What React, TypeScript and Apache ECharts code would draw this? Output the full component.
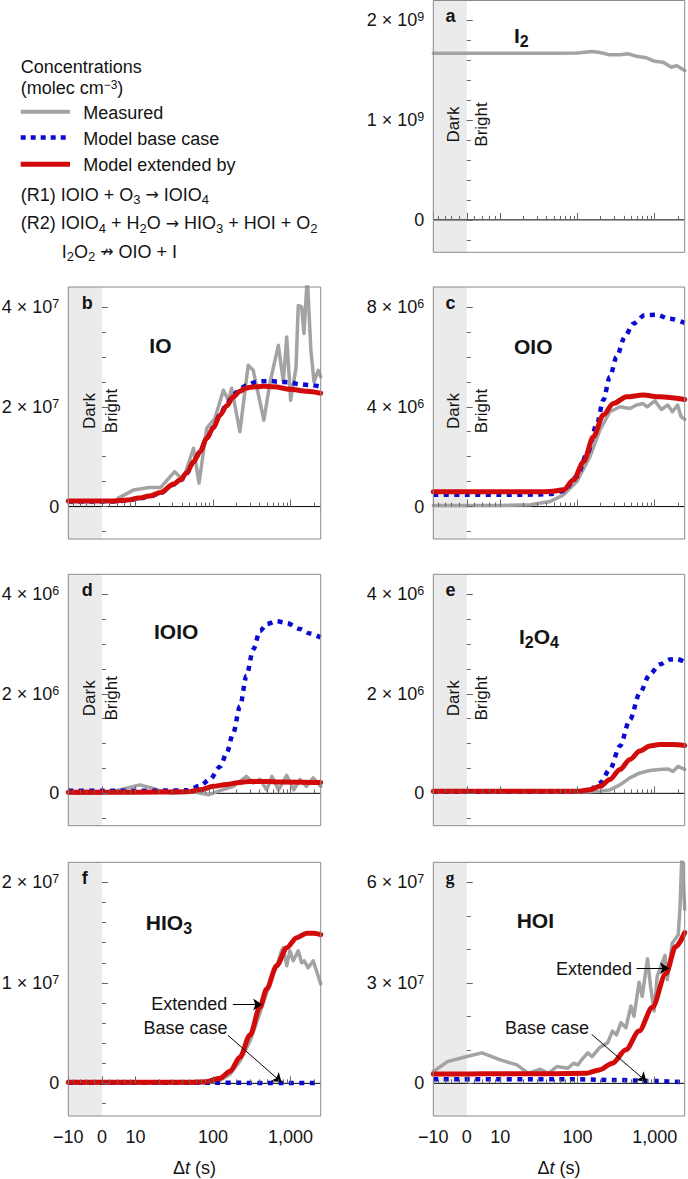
import React, { useEffect, useRef } from 'react';
import * as echarts from 'echarts';

const FONT = '"Liberation Sans", Arial, Helvetica, sans-serif';
const SERIF = '"Liberation Serif", "Times New Roman", serif';
const SYMFONT = '"DejaVu Sans", sans-serif';
const GRAY = '#a3a3a3';
const BLUE = '#0b0bd0';
const RED = '#d20a0a';
const TXT = '#141414';
const FRAME = '#8a8a8a';
const TICK = '#666666';
const SHADE = '#ebebeb';

// ---- x axis: time (s), asinh near zero, log10 above 10 s ----
const X_MIN = -10;
const X_MAX = 2450;
function fx(t: number): number {
  if (t <= 10) return (33.6 * Math.asinh(t / 8.5)) / Math.asinh(10 / 8.5);
  return 33.6 + 77.5 * Math.log10(t / 10);
}
const X_MAJOR = [-10, 0, 10, 100, 1000];
const X_MAJOR_LABELS = ['\u221210', '0', '10', '100', '1,000'];
const X_MINOR = [-8, -6, -4, -2, 2, 4, 6, 8, 20, 30, 40, 50, 60, 70, 80, 90, 200, 300, 400, 500, 600, 700, 800, 900, 2000];

// ---- y ticks (in units of 10^exp) ----
const A_Y_MAJOR = [0, 1, 2];
const A_Y_MINOR = [-0.2, 0.2, 0.4, 0.6, 0.8, 1.2, 1.4, 1.6, 1.8];
const B_Y_MAJOR = [0, 2, 4];
const B_Y_MINOR = [-0.5, 0.5, 1, 1.5, 2.5, 3, 3.5];
const C_Y_MAJOR = [0, 4, 8];
const C_Y_MINOR = [-1, 1, 2, 3, 5, 6, 7];
const D_Y_MAJOR = [0, 2, 4];
const D_Y_MINOR = [-0.5, 0.5, 1, 1.5, 2.5, 3, 3.5];
const E_Y_MAJOR = [0, 2, 4];
const E_Y_MINOR = [-0.5, 0.5, 1, 1.5, 2.5, 3, 3.5];
const F_Y_MAJOR = [0, 1, 2];
const F_Y_MINOR = [-0.2, 0.2, 0.4, 0.6, 0.8, 1.2, 1.4, 1.6, 1.8];
const G_Y_MAJOR = [0, 3, 6];
const G_Y_MINOR = [1, 2, 4, 5];

// ---- data: a  I2 (x1e9) ----
const A_MEAS_T = [-10, 0, 10, 50, 100, 153, 196, 263, 355, 455, 582, 784, 1000, 1290, 1650, 1910, 2450];
const A_MEAS_V = [1.67, 1.67, 1.67, 1.671, 1.673, 1.688, 1.678, 1.655, 1.655, 1.665, 1.641, 1.625, 1.59, 1.581, 1.531, 1.547, 1.497];

// ---- b  IO (x1e7) ----
const B_MEAS_T = [4.3, 9.2, 15, 21, 32, 41, 56, 66, 83, 106, 136, 158, 174, 222, 284, 330, 453, 545, 697, 808, 893, 1003, 1175, 1258, 1390, 1490, 1645, 1830, 2010, 2280, 2450];
const B_MEAS_V = [0.17, 0.33, 0.38, 0.38, 0.7, 0.53, 1.17, 0.47, 1.57, 1.77, 2.33, 2.13, 2.37, 1.5, 2.83, 2.73, 1.73, 2.5, 3.23, 2.5, 3.4, 2.13, 2.77, 4.03, 4.0, 3.47, 4.6, 3.13, 2.5, 2.73, 2.6];
const B_BASE_T = [-10, 0, 3, 7, 11, 15, 21, 31, 38, 46, 56, 68, 83, 101, 123, 150, 182, 223, 270, 365, 520, 700, 983, 1300, 1900, 2450];
const B_BASE_V = [0.1, 0.1, 0.1, 0.12, 0.16, 0.2, 0.27, 0.44, 0.53, 0.67, 0.89, 1.09, 1.37, 1.59, 1.85, 2.05, 2.24, 2.36, 2.43, 2.5, 2.52, 2.5, 2.49, 2.45, 2.43, 2.4];
const B_EXT_T = [-10, 0, 3, 7, 11, 15, 21, 31, 38, 46, 56, 68, 83, 101, 123, 150, 182, 223, 260, 300, 365, 450, 615, 983, 1620, 2450];
const B_EXT_V = [0.11, 0.11, 0.11, 0.13, 0.17, 0.21, 0.28, 0.45, 0.54, 0.68, 0.9, 1.1, 1.37, 1.58, 1.83, 2.02, 2.2, 2.31, 2.37, 2.39, 2.4, 2.41, 2.4, 2.35, 2.31, 2.27];

// ---- c  OIO (x1e6) ----
const C_MEAS_T = [-10, 0, 10, 24.5, 44, 66, 98, 145, 196, 263, 355, 478, 582, 707, 800, 1003, 1220, 1480, 1700, 1980, 2200, 2450];
const C_MEAS_V = [0.04, 0.04, 0.04, 0.07, 0.2, 0.47, 1.0, 2.0, 3.07, 3.8, 4.0, 3.93, 4.07, 4.13, 4.0, 4.24, 3.89, 4.07, 3.8, 4.07, 3.6, 3.5];
const C_BASE_T = [-10, 0, 10, 30, 44, 66, 98, 134, 180, 216, 263, 321, 410, 528, 743, 1055, 1565, 2450];
const C_BASE_V = [0.47, 0.47, 0.47, 0.48, 0.5, 0.62, 1.2, 2.13, 3.33, 4.27, 5.2, 6.0, 6.8, 7.33, 7.67, 7.69, 7.53, 7.36];
const C_EXT_T = [-10, 0, 10, 30, 44, 66, 89, 120, 161, 216, 291, 433, 707, 1160, 2450];
const C_EXT_V = [0.59, 0.59, 0.59, 0.59, 0.6, 0.67, 1.07, 1.8, 2.8, 3.67, 4.13, 4.4, 4.47, 4.4, 4.29];

// ---- d  IOIO (x1e6) ----
const D_MEAS_T = [-10, 0, 2.9, 11.4, 17, 22, 30, 55, 88, 120, 182, 270, 330, 403, 492, 575, 700, 893, 1100, 1325, 1600, 1960, 2450];
const D_MEAS_V = [0, 0, 0.04, 0.17, 0.1, 0.04, 0, 0.03, -0.03, 0.05, 0.14, 0.34, 0.21, 0.28, 0.07, 0.34, 0.07, 0.36, 0.07, 0.28, 0.14, 0.31, 0.14];
const D_BASE_T = [-10, 0, 10, 46, 68, 91, 124, 150, 182, 223, 270, 330, 403, 492, 662, 893, 1325, 1785, 2450];
const D_BASE_V = [0.05, 0.05, 0.05, 0.06, 0.15, 0.28, 0.54, 0.81, 1.21, 1.75, 2.36, 2.89, 3.26, 3.4, 3.46, 3.42, 3.3, 3.21, 3.13];
const D_EXT_T = [-10, 0, 10, 46, 68, 101, 150, 223, 300, 480, 750, 2450];
const D_EXT_V = [0.02, 0.02, 0.02, 0.03, 0.07, 0.14, 0.18, 0.22, 0.24, 0.24, 0.23, 0.22];

// ---- e  I2O4 (x1e6) ----
const E_MEAS_T = [-10, 0, 10, 50, 98, 196, 263, 355, 478, 643, 866, 1160, 1480, 1730, 2000, 2450];
const E_MEAS_V = [0.02, 0.02, 0.02, 0.02, 0.02, 0.04, 0.07, 0.17, 0.31, 0.41, 0.46, 0.48, 0.49, 0.44, 0.54, 0.48];
const E_BASE_T = [-10, 0, 10, 50, 98, 145, 196, 263, 355, 478, 643, 866, 1160, 1565, 1911, 2450];
const E_BASE_V = [0.03, 0.03, 0.03, 0.03, 0.03, 0.07, 0.21, 0.48, 0.95, 1.48, 2.02, 2.39, 2.59, 2.69, 2.7, 2.64];
const E_EXT_T = [-10, 0, 10, 50, 98, 145, 196, 263, 355, 478, 643, 866, 1160, 1730, 2450];
const E_EXT_V = [0.04, 0.04, 0.04, 0.04, 0.04, 0.07, 0.14, 0.28, 0.48, 0.68, 0.85, 0.95, 0.98, 0.98, 0.96];

// ---- f  HIO3 (x1e7) ----
const F_MEAS_T = [-10, 0, 10, 46, 82, 123, 166, 222, 300, 403, 492, 560, 662, 764, 808, 893, 983, 1085, 1258, 1390, 1500, 1690, 1960, 2450];
const F_MEAS_V = [0, 0, 0, 0, 0.005, 0.03, 0.09, 0.22, 0.42, 0.7, 0.9, 1.05, 1.16, 1.32, 1.35, 1.17, 1.32, 1.22, 1.32, 1.2, 1.22, 1.15, 1.22, 0.99];
const F_BASE_T = [-10, 100, 1000, 2450];
const F_BASE_V = [0.005, 0.005, 0.004, 0.004];
const F_EXT_T = [-10, 0, 10, 46, 82, 123, 166, 222, 300, 403, 492, 662, 893, 1200, 1614, 2000, 2450];
const F_EXT_V = [0.01, 0.01, 0.01, 0.01, 0.017, 0.05, 0.12, 0.26, 0.48, 0.76, 0.94, 1.17, 1.35, 1.45, 1.495, 1.495, 1.48];

// ---- g  HOI (x1e7) ----
const G_MEAS_T = [-10, -5.2, 0, 4, 10, 16.5, 23, 33, 42, 54, 75, 89, 101, 113, 136, 155, 192, 246, 284, 320, 366, 424, 493, 540, 628, 690, 808, 885, 983, 1080, 1364, 1460, 1690, 2020, 2130, 2250, 2450];
const G_MEAS_V = [0.35, 0.65, 0.8, 0.91, 0.7, 0.55, 0.3, 0.42, 0.3, 0.5, 0.45, 0.6, 0.55, 0.7, 0.91, 0.8, 1.06, 1.21, 1.56, 1.45, 1.81, 1.66, 2.31, 2.0, 3.02, 2.6, 3.72, 2.9, 2.16, 3.2, 3.82, 3.1, 4.18, 4.43, 5.24, 6.8, 5.2];
const G_BASE_T = [-10, 100, 300, 1000, 2450];
const G_BASE_V = [0.12, 0.12, 0.1, 0.07, 0.03];
const G_EXT_T = [-10, 0, 10, 50, 129, 192, 284, 424, 628, 935, 1392, 1873, 2450];
const G_EXT_V = [0.28, 0.28, 0.29, 0.29, 0.3, 0.4, 0.6, 1.0, 1.56, 2.27, 3.27, 4.08, 4.5];

// ---- annotations (data coordinates: [t, value]) ----
const F_EXT_TEXT = [180, 0.785];
const F_EXT_ARROW = [[180, 0.785], [430, 0.785]];
const F_BASE_TEXT = [166, 0.554];
const F_BASE_ARROW = [[156, 0.478], [766, 0.01]];
const G_EXT_TEXT = [582, 3.4];
const G_EXT_ARROW = [[582, 3.44], [1538, 3.44]];
const G_BASE_TEXT = [152, 1.66];
const G_BASE_ARROW = [[153, 1.46], [784, 0.05]];

// ---- layout ----
const COL_LEFT = [68.3, 433.3];
const COL_WIDTH = [252.4, 251.4];
const ROW_TOP = [0.5, 287, 574.3, 862.3];
const ROW_HEIGHT = [251.8, 252, 251.4, 253.7];

type Pair = [number[], number[]];
type Annot = { text: string; at: number[]; arrow: number[][]; dist: number };
type Panel = {
  letter: string; col: number; row: number; exp: number; unit: number;
  yMajor: number[]; yMinor: number[]; title: string; tdx: number; tdy: number;
  meas: Pair; base?: Pair; ext?: Pair; showX: boolean; darkBright: boolean; annots?: Annot[];
};

const PANELS: Panel[] = [
  { letter: 'a', col: 1, row: 0, exp: 9, unit: 1, yMajor: A_Y_MAJOR, yMinor: A_Y_MINOR, title: 'I{s|2}', tdx: 80.7, tdy: 34.5, meas: [A_MEAS_T, A_MEAS_V], showX: false, darkBright: true },
  { letter: 'b', col: 0, row: 1, exp: 7, unit: 2, yMajor: B_Y_MAJOR, yMinor: B_Y_MINOR, title: 'IO', tdx: 81, tdy: 58.6, meas: [B_MEAS_T, B_MEAS_V], base: [B_BASE_T, B_BASE_V], ext: [B_EXT_T, B_EXT_V], showX: false, darkBright: true },
  { letter: 'c', col: 1, row: 1, exp: 6, unit: 4, yMajor: C_Y_MAJOR, yMinor: C_Y_MINOR, title: 'OIO', tdx: 80.7, tdy: 59, meas: [C_MEAS_T, C_MEAS_V], base: [C_BASE_T, C_BASE_V], ext: [C_EXT_T, C_EXT_V], showX: false, darkBright: true },
  { letter: 'd', col: 0, row: 2, exp: 6, unit: 2, yMajor: D_Y_MAJOR, yMinor: D_Y_MINOR, title: 'IOIO', tdx: 85.7, tdy: 57, meas: [D_MEAS_T, D_MEAS_V], base: [D_BASE_T, D_BASE_V], ext: [D_EXT_T, D_EXT_V], showX: false, darkBright: true },
  { letter: 'e', col: 1, row: 2, exp: 6, unit: 2, yMajor: E_Y_MAJOR, yMinor: E_Y_MINOR, title: 'I{s|2}O{s|4}', tdx: 85.7, tdy: 62.4, meas: [E_MEAS_T, E_MEAS_V], base: [E_BASE_T, E_BASE_V], ext: [E_EXT_T, E_EXT_V], showX: false, darkBright: true },
  { letter: 'f', col: 0, row: 3, exp: 7, unit: 1, yMajor: F_Y_MAJOR, yMinor: F_Y_MINOR, title: 'HIO{s|3}', tdx: 77.5, tdy: 59.7, meas: [F_MEAS_T, F_MEAS_V], base: [F_BASE_T, F_BASE_V], ext: [F_EXT_T, F_EXT_V], showX: true, darkBright: false,
    annots: [ { text: 'Extended', at: F_EXT_TEXT, arrow: F_EXT_ARROW, dist: 5 }, { text: 'Base case', at: F_BASE_TEXT, arrow: F_BASE_ARROW, dist: 2 } ] },
  { letter: 'g', col: 1, row: 3, exp: 7, unit: 3, yMajor: G_Y_MAJOR, yMinor: G_Y_MINOR, title: 'HOI', tdx: 83.4, tdy: 58.2, meas: [G_MEAS_T, G_MEAS_V], base: [G_BASE_T, G_BASE_V], ext: [G_EXT_T, G_EXT_V], showX: true, darkBright: false,
    annots: [ { text: 'Extended', at: G_EXT_TEXT, arrow: G_EXT_ARROW, dist: 4 }, { text: 'Base case', at: G_BASE_TEXT, arrow: G_BASE_ARROW, dist: 2 } ] },
];

function zip(p: Pair): number[][] {
  const n = Math.min(p[0].length, p[1].length);
  const out: number[][] = [];
  for (let i = 0; i < n; i++) out.push([fx(p[0][i]), p[1][i]]);
  return out;
}

function buildOption() {
  const grid: any[] = [];
  const xAxis: any[] = [];
  const yAxis: any[] = [];
  const series: any[] = [];
  const graphic: any[] = [];
  const xmin = fx(X_MIN);
  const xmax = fx(X_MAX);

  PANELS.forEach((p, i) => {
    const left = COL_LEFT[p.col];
    const top = ROW_TOP[p.row];
    grid.push({
      left, top, width: COL_WIDTH[p.col], height: ROW_HEIGHT[p.row],
      show: true, z: 6, borderColor: FRAME, borderWidth: 1, backgroundColor: 'transparent',
      containLabel: false, outerBoundsMode: 'none',
    });
    const xi = i * 2;
    xAxis.push({
      type: 'value', gridIndex: i, min: xmin, max: xmax, position: 'bottom', z: 5,
      axisLine: { show: false }, splitLine: { show: false },
      axisTick: { show: true, inside: true, length: 4, customValues: X_MAJOR.concat(X_MINOR).map(fx), lineStyle: { color: TICK, width: 1 } },
      axisLabel: {
        show: p.showX, customValues: X_MAJOR.map(fx), margin: 12, fontSize: 18, color: TXT, fontFamily: FONT,
        formatter: (v: number) => {
          const k = X_MAJOR.findIndex((t) => Math.abs(fx(t) - v) < 1e-6);
          return k >= 0 ? X_MAJOR_LABELS[k] : '';
        },
      },
      name: p.showX ? '{a|\u0394}{i|t}{a| (s)}' : '', nameLocation: 'middle', nameGap: 42, nameMoveOverlap: false,
      nameTextStyle: { rich: { a: { fontSize: 18, fontFamily: FONT, color: TXT, lineHeight: 20 }, i: { fontSize: 18, fontStyle: 'italic', fontFamily: FONT, color: TXT, lineHeight: 20 } } },
    });
    xAxis.push({
      type: 'value', gridIndex: i, min: xmin, max: xmax, position: 'bottom', z: 5,
      axisLine: { show: false }, splitLine: { show: false },
      axisTick: { show: true, inside: true, length: 7, customValues: X_MAJOR.map(fx), lineStyle: { color: TICK, width: 1 } },
      axisLabel: { show: false },
    });
    const ymin = -0.325 * p.unit;
    const ymax = 2.2 * p.unit;
    yAxis.push({
      type: 'value', gridIndex: i, min: ymin, max: ymax, position: 'left', z: 5,
      axisLine: { show: false }, splitLine: { show: false },
      axisTick: { show: true, inside: true, length: 4, customValues: p.yMajor.concat(p.yMinor), lineStyle: { color: TICK, width: 1 } },
      axisLabel: {
        show: true, customValues: p.yMajor, margin: 9, fontSize: 18, lineHeight: 19, color: TXT, fontFamily: FONT,
        formatter: (v: number) => (Math.abs(v) < 1e-9 ? '0' : `{n|${v} \u00d7 10}{sup|${p.exp}}`),
        rich: {
          n: { fontSize: 18, lineHeight: 19, fontFamily: FONT, color: TXT },
          sup: { fontSize: 12.5, lineHeight: 12.5, verticalAlign: 'top', fontFamily: FONT, color: TXT },
        },
      },
    });
    yAxis.push({
      type: 'value', gridIndex: i, min: ymin, max: ymax, position: 'left', z: 5,
      axisLine: { show: false }, splitLine: { show: false },
      axisTick: { show: true, inside: true, length: 6, customValues: p.yMajor, lineStyle: { color: TICK, width: 1 } },
      axisLabel: { show: false },
    });

    const edge = [[xmin, 0], [xmax, 0]];
    // shaded dark period
    series.push({
      type: 'line', xAxisIndex: xi, yAxisIndex: xi, data: edge, symbol: 'none', silent: true, z: 1,
      lineStyle: { width: 0, opacity: 0 },
      markArea: { silent: true, itemStyle: { color: SHADE }, data: [[{ xAxis: fx(-10) }, { xAxis: fx(0) }]] },
    });
    // zero line
    series.push({
      type: 'line', xAxisIndex: xi, yAxisIndex: xi, data: edge, symbol: 'none', silent: true, z: 2,
      lineStyle: { color: '#000', width: 1 },
    });
    series.push({
      name: 'Measured', type: 'line', xAxisIndex: xi, yAxisIndex: xi, data: zip(p.meas), symbol: 'none', z: 3,
      lineStyle: { color: GRAY, width: 3.5, join: 'round', cap: 'round' },
    });
    if (p.base) {
      series.push({
        name: 'Model base case', type: 'line', xAxisIndex: xi, yAxisIndex: xi, data: zip(p.base), symbol: 'none', z: 3,
        smooth: 0.3, smoothMonotone: 'x',
        lineStyle: { color: BLUE, width: 4.5, type: [5, 5.5], cap: 'butt' },
      });
    }
    if (p.ext) {
      series.push({
        name: 'Model extended', type: 'line', xAxisIndex: xi, yAxisIndex: xi, data: zip(p.ext), symbol: 'none', z: 3,
        smooth: 0.3, smoothMonotone: 'x',
        lineStyle: { color: RED, width: 5, cap: 'round', join: 'round' },
      });
    }
    if (p.annots) {
      series.push({
        type: 'line', xAxisIndex: xi, yAxisIndex: xi, data: edge, symbol: 'none', silent: true, z: 4,
        lineStyle: { width: 0, opacity: 0 },
        markLine: {
          silent: true, symbol: ['none', 'arrow'], symbolSize: 9,
          label: { show: false },
          lineStyle: { color: '#000', width: 1, type: 'solid' },
          data: p.annots.map((a) => [
            { coord: [fx(a.arrow[0][0]), a.arrow[0][1]] },
            { coord: [fx(a.arrow[1][0]), a.arrow[1][1]] },
          ]),
        },
        markPoint: {
          silent: true, symbol: 'circle', symbolSize: 1, itemStyle: { color: 'rgba(0,0,0,0)' },
          data: p.annots.map((a) => ({
            coord: [fx(a.at[0]), a.at[1]],
            label: { show: true, position: 'left', distance: a.dist, formatter: a.text, fontSize: 18, color: TXT, fontFamily: FONT },
          })),
        },
      });
    }

    // panel letter
    graphic.push({
      type: 'text', x: left + (p.col === 0 ? 13.5 : 12.3), y: top + 15.5, silent: true, z: 10,
      style: {
        text: p.letter, fontSize: 18, fontWeight: 'bold', fontFamily: p.letter === 'g' ? SERIF : FONT, fill: TXT,
        align: 'left', textAlign: 'left', verticalAlign: 'middle', textVerticalAlign: 'middle',
      },
    });
    // species name
    graphic.push({
      type: 'text', x: left + p.tdx, y: top + p.tdy, silent: true, z: 10,
      style: {
        text: p.title, fontSize: 21, fontWeight: 'bold', lineHeight: 28, fontFamily: FONT, fill: TXT,
        align: 'left', textAlign: 'left', verticalAlign: 'middle', textVerticalAlign: 'middle',
        rich: { s: { fontSize: 16, fontWeight: 'bold', lineHeight: 16, verticalAlign: 'bottom', fontFamily: FONT, fill: TXT } },
      },
    });
    if (p.darkBright) {
      const dx = p.col === 0 ? [21, 43.2] : [19.8, 48.4];
      ['Dark', 'Bright'].forEach((s, k) => {
        graphic.push({
          type: 'text', x: left + dx[k], y: top + 124, rotation: Math.PI / 2, silent: true, z: 10,
          style: {
            text: s, fontSize: 17, fontFamily: FONT, fill: TXT,
            align: 'center', textAlign: 'center', verticalAlign: 'middle', textVerticalAlign: 'middle',
          },
        });
      });
    }
  });

  // ---- legend block ----
  const legText = (text: string, x: number, y: number, extra: any = {}) => ({
    type: 'text', x, y, silent: true, z: 10,
    style: {
      text, fontSize: 18, fontFamily: FONT, fill: TXT, lineHeight: 23,
      align: 'left', textAlign: 'left', verticalAlign: 'middle', textVerticalAlign: 'middle',
      rich: {
        s: { fontSize: 13, lineHeight: 13, verticalAlign: 'bottom', fontFamily: FONT, fill: TXT },
        sup: { fontSize: 12, lineHeight: 12, verticalAlign: 'top', fontFamily: FONT, fill: TXT },
        ar: { fontSize: 16, lineHeight: 23, fontFamily: SYMFONT, fill: TXT },
      },
      ...extra,
    },
  });
  graphic.push(legText('Concentrations', 20.7, 67.2));
  graphic.push(legText('(molec cm{sup|\u22123})', 20.7, 88, { lineHeight: 18 }));
  graphic.push({ type: 'line', silent: true, z: 10, shape: { x1: 20.7, y1: 111.7, x2: 70, y2: 111.7 }, style: { stroke: GRAY, lineWidth: 4 } });
  graphic.push(legText('Measured', 83.3, 113.3));
  graphic.push({ type: 'line', silent: true, z: 10, shape: { x1: 20.7, y1: 137.5, x2: 68, y2: 137.5 }, style: { stroke: BLUE, lineWidth: 4.5, lineDash: [5, 5], lineCap: 'butt' } });
  graphic.push(legText('Model base case', 83.3, 139.3));
  graphic.push({ type: 'line', silent: true, z: 10, shape: { x1: 20.7, y1: 164.3, x2: 70, y2: 164.3 }, style: { stroke: RED, lineWidth: 5 } });
  graphic.push(legText('Model extended by', 83.3, 165.3));
  graphic.push(legText('(R1) IOIO + O{s|3} {ar|\u2192} IOIO{s|4}', 20.7, 194.8));
  graphic.push(legText('(R2) IOIO{s|4} + H{s|2}O {ar|\u2192} HIO{s|3} + HOI + O{s|2}', 20.7, 223.3));
  graphic.push(legText('I{s|2}O{s|2} {ar|\u219b} OIO + I', 61.7, 251.5));

  return {
    animation: false,
    backgroundColor: '#ffffff',
    textStyle: { fontFamily: FONT },
    grid, xAxis, yAxis, series, graphic,
  };
}

export default function App() {
  const ref = useRef<HTMLDivElement>(null);
  useEffect(() => {
    if (!ref.current) return;
    const chart = echarts.init(ref.current, undefined, { renderer: 'svg' });
    chart.setOption(buildOption() as any);
    return () => chart.dispose();
  }, []);
  return (
    <div
      ref={ref}
      style={{ position: 'absolute', left: 0, top: 0, width: 688, height: 1179, background: '#fff' }}
    />
  );
}
